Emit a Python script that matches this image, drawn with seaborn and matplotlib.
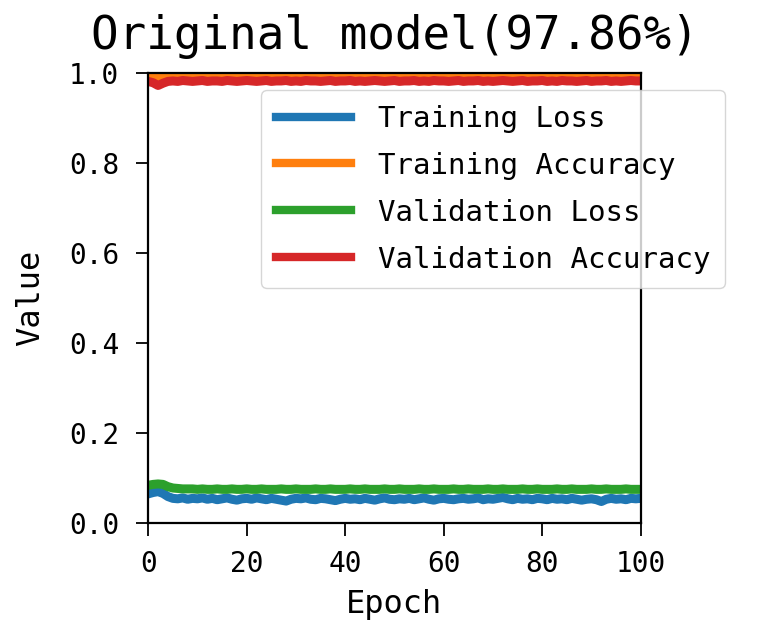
import matplotlib
matplotlib.use('Agg')
import matplotlib.pyplot as plt
import seaborn as sns
import pandas as pd

plt.rcParams['font.family'] = ['DejaVu Sans Mono', 'DejaVu Sans']

epochs = list(range(101))

train_loss = [0.065, 0.068, 0.070, 0.066, 0.059, 0.055, 0.054, 0.056, 0.053, 0.055,
              0.054, 0.056, 0.053, 0.055, 0.052, 0.054, 0.056, 0.053, 0.051, 0.054,
              0.055, 0.053, 0.056, 0.054, 0.052, 0.055, 0.053, 0.051, 0.049, 0.053,
              0.055, 0.054, 0.056, 0.053, 0.052, 0.055, 0.054, 0.052, 0.050, 0.053,
              0.055, 0.053, 0.054, 0.052, 0.055, 0.053, 0.051, 0.054, 0.056, 0.053,
              0.052, 0.054, 0.053, 0.055, 0.052, 0.054, 0.056, 0.053, 0.051, 0.054,
              0.055, 0.053, 0.052, 0.054, 0.055, 0.053, 0.054, 0.056, 0.052, 0.054,
              0.053, 0.055, 0.057, 0.054, 0.052, 0.055, 0.053, 0.054, 0.052, 0.055,
              0.054, 0.052, 0.055, 0.053, 0.054, 0.052, 0.055, 0.053, 0.051, 0.053,
              0.054, 0.052, 0.048, 0.053, 0.055, 0.053, 0.054, 0.052, 0.055, 0.054,
              0.055]

train_acc = [0.990, 0.991, 0.992, 0.991, 0.990, 0.991, 0.990, 0.992, 0.991, 0.990,
             0.991, 0.990, 0.991, 0.992, 0.990, 0.991, 0.990, 0.991, 0.992, 0.990,
             0.991, 0.990, 0.991, 0.990, 0.992, 0.991, 0.990, 0.991, 0.992, 0.991,
             0.990, 0.991, 0.990, 0.991, 0.992, 0.990, 0.991, 0.990, 0.991, 0.992,
             0.990, 0.991, 0.990, 0.991, 0.990, 0.992, 0.991, 0.990, 0.991, 0.990,
             0.991, 0.992, 0.990, 0.991, 0.990, 0.991, 0.990, 0.992, 0.991, 0.990,
             0.991, 0.990, 0.991, 0.992, 0.990, 0.991, 0.990, 0.991, 0.990, 0.992,
             0.991, 0.990, 0.991, 0.990, 0.991, 0.992, 0.990, 0.991, 0.990, 0.991,
             0.990, 0.992, 0.991, 0.990, 0.991, 0.990, 0.991, 0.992, 0.990, 0.991,
             0.990, 0.991, 0.992, 0.990, 0.991, 0.990, 0.991, 0.990, 0.992, 0.991,
             0.990]

val_loss = [0.084, 0.086, 0.087, 0.086, 0.081, 0.078, 0.077, 0.076, 0.076, 0.076,
            0.075, 0.076, 0.075, 0.075, 0.076, 0.075, 0.075, 0.076, 0.075, 0.075,
            0.076, 0.075, 0.075, 0.076, 0.075, 0.075, 0.075, 0.076, 0.075, 0.075,
            0.076, 0.075, 0.075, 0.075, 0.076, 0.075, 0.075, 0.076, 0.075, 0.075,
            0.075, 0.076, 0.075, 0.075, 0.076, 0.075, 0.075, 0.075, 0.076, 0.075,
            0.075, 0.076, 0.075, 0.075, 0.075, 0.076, 0.075, 0.075, 0.076, 0.075,
            0.075, 0.075, 0.076, 0.075, 0.075, 0.076, 0.075, 0.075, 0.075, 0.076,
            0.075, 0.075, 0.076, 0.075, 0.075, 0.075, 0.076, 0.075, 0.075, 0.076,
            0.075, 0.075, 0.075, 0.076, 0.075, 0.075, 0.076, 0.075, 0.075, 0.075,
            0.076, 0.075, 0.075, 0.076, 0.075, 0.075, 0.075, 0.076, 0.075, 0.075,
            0.075]

val_acc = [0.981, 0.978, 0.972, 0.977, 0.981, 0.982, 0.981, 0.983, 0.982, 0.981,
           0.982, 0.983, 0.981, 0.982, 0.982, 0.981, 0.983, 0.982, 0.981, 0.982,
           0.983, 0.982, 0.981, 0.982, 0.983, 0.981, 0.982, 0.982, 0.983, 0.981,
           0.982, 0.981, 0.983, 0.982, 0.982, 0.981, 0.982, 0.983, 0.981, 0.982,
           0.982, 0.983, 0.981, 0.982, 0.981, 0.982, 0.983, 0.982, 0.981, 0.982,
           0.983, 0.981, 0.982, 0.982, 0.983, 0.981, 0.982, 0.981, 0.983, 0.982,
           0.982, 0.981, 0.982, 0.983, 0.981, 0.982, 0.982, 0.983, 0.981, 0.982,
           0.981, 0.982, 0.983, 0.982, 0.981, 0.982, 0.983, 0.981, 0.982, 0.982,
           0.983, 0.981, 0.982, 0.981, 0.983, 0.982, 0.982, 0.981, 0.982, 0.983,
           0.981, 0.982, 0.982, 0.983, 0.981, 0.982, 0.981, 0.982, 0.983, 0.982,
           0.982]

series = {
    'Training Loss': train_loss,
    'Training Accuracy': train_acc,
    'Validation Loss': val_loss,
    'Validation Accuracy': val_acc,
}
colors = ['#1f77b4', '#ff7f0e', '#2ca02c', '#d62728']

fig = plt.figure(figsize=(7.72, 6.28), dpi=100)
ax = fig.add_axes([0.192, 0.167, 0.638, 0.717])

for (name, vals), c in zip(series.items(), colors):
    df = pd.DataFrame({'Epoch': epochs, 'Value': vals})
    sns.lineplot(data=df, x='Epoch', y='Value', ax=ax, color=c, linewidth=6.5, label=name)

ax.set_xlim(0, 100)
ax.set_ylim(0, 1.0)
ax.set_xticks([0, 20, 40, 60, 80, 100])
ax.set_yticks([0.0, 0.2, 0.4, 0.6, 0.8, 1.0])
ax.tick_params(labelsize=20, length=9, width=1.3)
ax.tick_params(axis='x', pad=10)
ax.tick_params(axis='y', pad=12)
for s in ax.spines.values():
    s.set_linewidth(1.6)
ax.set_xlabel('Epoch', fontsize=23, labelpad=8)
ax.set_ylabel('Value', fontsize=23, labelpad=16)
ax.set_title('Original model(97.86%)', fontsize=33, pad=17)

leg = ax.legend(loc='upper right', bbox_to_anchor=(1.2, 0.994), fontsize=21,
                handlelength=2.6, frameon=True, borderpad=0.5, labelspacing=0.65,
                handletextpad=0.9)
for line in leg.get_lines():
    line.set_linewidth(6)

fig.savefig('out.png', dpi=100)
